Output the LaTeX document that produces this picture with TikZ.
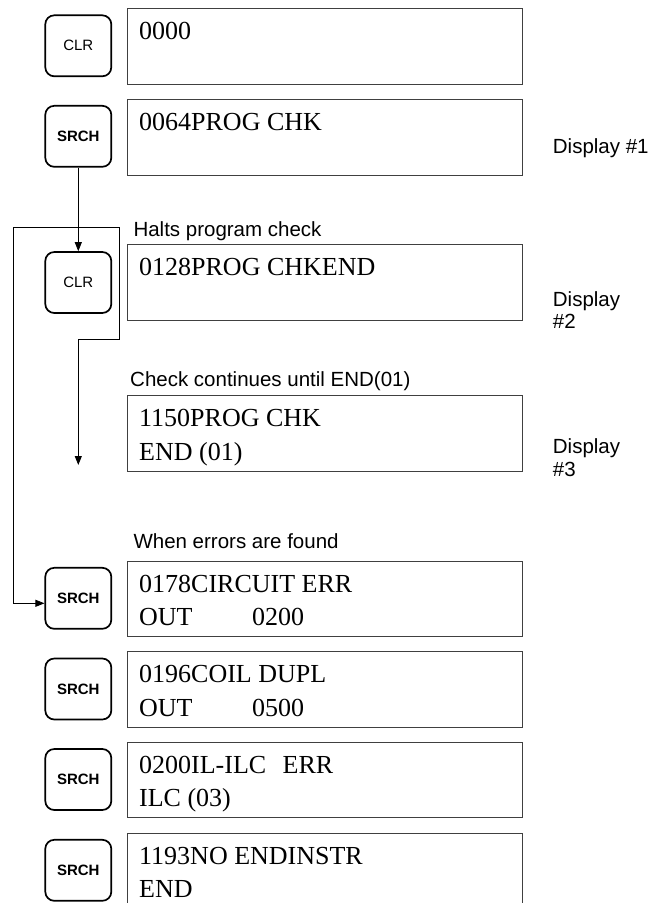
\documentclass[tikz,border=0pt]{standalone}
\usepackage{fontspec}
\setmainfont{Liberation Serif}
\setsansfont{Liberation Sans}
\usetikzlibrary{arrows.meta}
\begin{document}
\begin{tikzpicture}[x=1pt,y=-1pt,
  dispbox/.style={draw=black!75, line width=0.9pt, minimum width=394.7pt, minimum height=75.5pt, anchor=north west, inner sep=0pt},
  keybox/.style={draw=black, line width=1.7pt, rounded corners=9pt, minimum width=66pt, minimum height=61pt, inner sep=0pt, font=\sffamily\fontsize{15}{15}\selectfont},
  lcd/.style={anchor=base west, inner sep=0pt, font=\fontsize{26}{26}\selectfont},
  lbl/.style={anchor=base west, inner sep=0pt, font=\sffamily\fontsize{20.5}{20.5}\selectfont},
  conn/.style={line width=0.8pt, draw=black},
  tip/.style={Triangle[length=9pt,width=7pt]}
]
\useasboundingbox (0,0) rectangle (651,903);
% display boxes
\node[dispbox] (d1) at (127,8) {};
\node[dispbox] (d2) at (127,99) {};
\node[dispbox] (d3) at (127,244) {};
\node[dispbox] (d4) at (127,395) {};
\node[dispbox] (d5) at (127,560.7) {};
\node[dispbox] (d6) at (127,651.2) {};
\node[dispbox] (d7) at (127,741.7) {};
\node[dispbox] (d8) at (127,832.7) {};
% display texts
\node[lcd] (t1) at (139,39.3) {0000};
\node[lcd] (t2) at (139,130.5) {0064PROG CHK};
\node[lcd] (t3) at (139,275.5) {0128PROG CHKEND};
\node[lcd] (t4a) at (139,426.5) {1150PROG CHK};
\node[lcd] (t4b) at (139,460) {END (01)};
\node[lcd] (t5a) at (139,592.2) {0178CIRCUIT ERR};
\node[lcd] (t5b) at (139,625.7) {\makebox[113pt][l]{OUT}0200};
\node[lcd] (t6a) at (139,682.7) {0196COIL DUPL};
\node[lcd] (t6b) at (139,716.2) {\makebox[113pt][l]{OUT}0500};
\node[lcd] (t7a) at (139,773.2) {\makebox[143.5pt][l]{0200IL-ILC}ERR};
\node[lcd] (t7b) at (139,806.7) {ILC (03)};
\node[lcd] (t8a) at (139,864.2) {1193NO ENDINSTR};
\node[lcd] (t8b) at (139,897.7) {END};
% keys
\node[keybox] (k1) at (78.3,45.8) {CLR};
\node[keybox] (k2) at (78.3,136.3) {\bfseries SRCH};
\node[keybox] (k3) at (78.3,282.5) {CLR};
\node[keybox] (k5) at (78.3,598.3) {\bfseries SRCH};
\node[keybox] (k6) at (78.3,689) {\bfseries SRCH};
\node[keybox] (k7) at (78.3,779.5) {\bfseries SRCH};
\node[keybox] (k8) at (78.3,870.3) {\bfseries SRCH};
% labels
\node[lbl] (l1) at (133.3,236.7) {Halts program check};
\node[lbl] (l2) at (130,386.7) {Check continues until END(01)};
\node[lbl] (l3) at (133.3,548.3) {When errors are found};
\node[lbl] (r1) at (552.7,153.3) {Display \#1};
\node[lbl] (r2a) at (552.7,306) {Display};
\node[lbl] (r2b) at (552.7,328.5) {\#2};
\node[lbl] (r3a) at (552.7,453.5) {Display};
\node[lbl] (r3b) at (552.7,476) {\#3};
% connectors
\draw[conn, -{Triangle[length=9pt,width=7pt]}] (k2.south) -- (k3.north);
\coordinate (lt) at (13.3,227.7);
\coordinate (rt) at (119,227.7);
\coordinate (rb) at (119,339.3);
\coordinate (mb) at (78.3,339.3);
\coordinate (ae) at (78.3,465);
\draw[conn, {Triangle[length=9pt,width=7pt]}-{Triangle[length=9pt,width=7pt]}] ([yshift=-5pt]k5.west) -| (lt) -- (rt) -- (rb) -- (mb) -- (ae);
\end{tikzpicture}
\end{document}
